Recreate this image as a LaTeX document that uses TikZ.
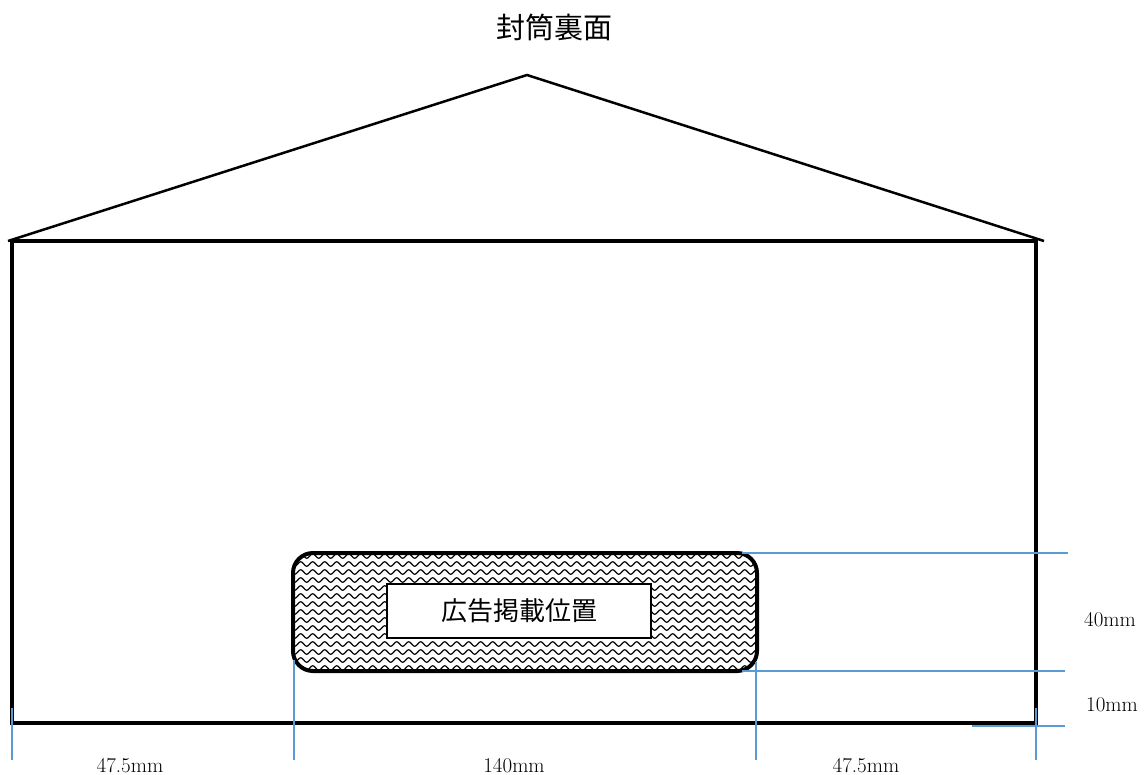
\documentclass[tikz,border=0pt]{standalone}
\usepackage{fontspec}
\newfontfamily\jpfont{Noto Sans CJK JP}
\usetikzlibrary{decorations.pathmorphing}

\definecolor{dimblue}{RGB}{91,155,213}

\tikzset{
  wave/.style={decorate, decoration={snake, segment length=12pt, amplitude=2.3pt}, line width=1.2pt},
  dimline/.style={draw=dimblue, line width=1.1pt},
  dimlabel/.style={font=\fontsize{21}{24}\selectfont, inner sep=0pt}
}

\begin{document}
\begin{tikzpicture}[x=1pt, y=-1pt]
\useasboundingbox (0,0) rectangle (1148,774);

\node[font=\jpfont\fontsize{29}{32}\selectfont] (title) at (554,27) {封筒裏面};

% envelope
\draw[line width=2.5pt, line join=miter] (8,241) -- (527,75) -- (1044,241);
\draw[line width=3.6pt] (12,241) rectangle (1036,723);

% ad area
\begin{scope}
\clip[rounded corners=20pt] (293,553) rectangle (757,671);
\foreach \row in {0,...,15}
  \draw[wave] (285,556+\row*8) -- (770,556+\row*8);
\end{scope}
\node[draw, line width=4pt, rounded corners=20pt, minimum width=464pt, minimum height=118pt, inner sep=0pt] (ad) at (525,612) {};
\node[draw, fill=white, line width=2pt, minimum width=264pt, minimum height=54pt, inner sep=0pt,
  font=\jpfont\fontsize{26}{30}\selectfont] (spot) at (519,611) {広告掲載位置};

% dimensions
\coordinate (r1) at (1068,553);
\coordinate (r2) at (1065,671);
\coordinate (r3) at (1065,726);
\draw[dimline] (742,553) -- (r1);
\draw[dimline] (742,671) -- (r2);
\draw[dimline] (972,726) -- (r3);
\draw[dimline] (12,708) -- (12,760);
\draw[dimline] (294,660) -- (294,760);
\draw[dimline] (756,662) -- (756,760);
\draw[dimline] (1036,708) -- (1036,760);

\node[dimlabel] (h40) at (1110,620) {40mm};
\node[dimlabel] (h10) at (1112,705) {10mm};
\node[dimlabel, anchor=base] (w1) at (130,772) {47.5mm};
\node[dimlabel, anchor=base] (w2) at (514,772) {140mm};
\node[dimlabel, anchor=base] (w3) at (866,772) {47.5mm};
\end{tikzpicture}
\end{document}
